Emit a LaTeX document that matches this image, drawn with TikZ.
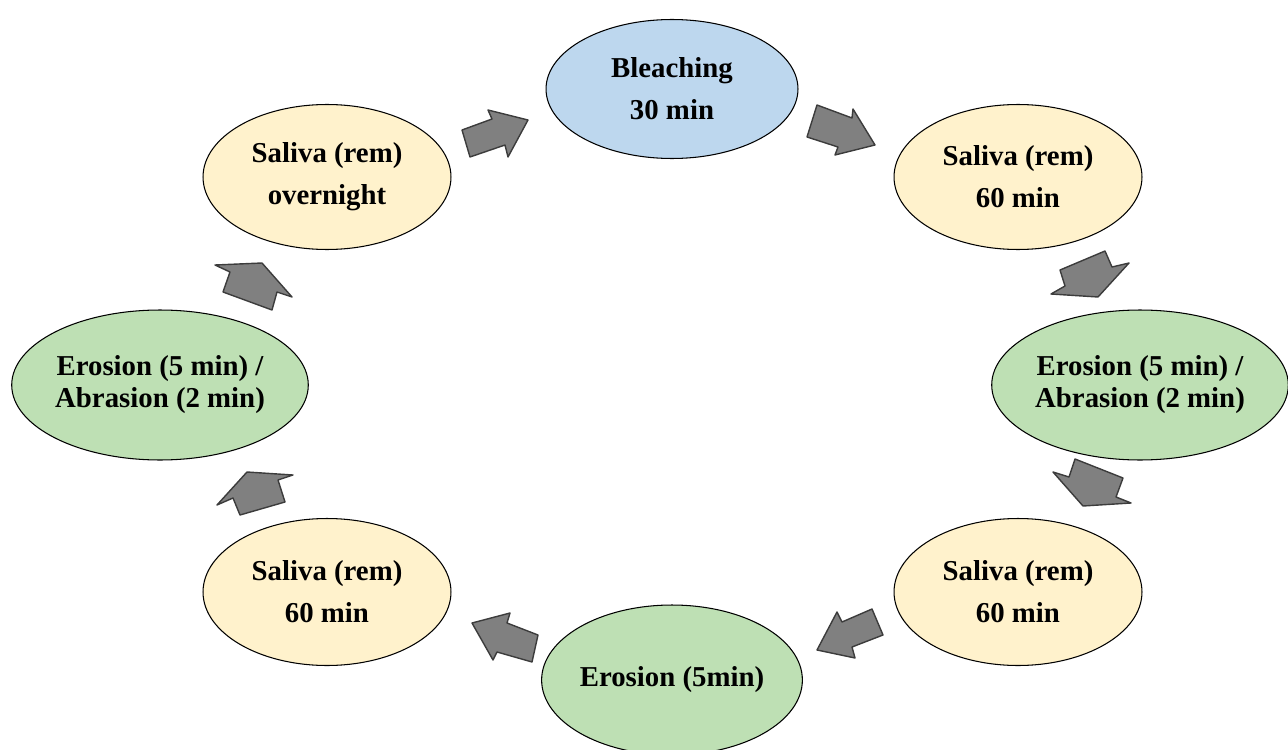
\documentclass[tikz,border=0pt]{standalone}
\usepackage{fontspec}
\setmainfont{Liberation Serif}
\usetikzlibrary{shapes.geometric}
\definecolor{blu}{RGB}{189,215,238}
\definecolor{yel}{RGB}{255,242,204}
\definecolor{grn}{RGB}{190,224,180}
\definecolor{arrfill}{RGB}{128,128,128}
\definecolor{arrline}{RGB}{60,60,60}
\begin{document}
\begin{tikzpicture}[x=0.02cm,y=-0.02cm,
  stage/.style={ellipse, draw=black, line width=0.6pt, inner sep=0pt, align=center,
    font=\fontsize{16.4}{24}\selectfont\bfseries},
  tight/.style={font=\fontsize{16.4}{18.2}\selectfont\bfseries},
  blockarrow/.style={fill=arrfill, draw=arrline, line width=0.8pt, line join=round}]
\useasboundingbox (0,0) rectangle (1288,750);

\node[stage, fill=blu, minimum width=5.04cm, minimum height=2.78cm] (bleach) at (672,89) {Bleaching\\30 min};
\node[stage, fill=yel, minimum width=4.96cm, minimum height=2.9cm] (sal1) at (1018,177) {Saliva (rem)\\60 min};
\node[stage, tight, fill=grn, minimum width=5.9cm, minimum height=3.0cm] (ea1) at (1140,385) {Erosion (5 min) /\\Abrasion (2 min)};
\node[stage, fill=yel, minimum width=4.96cm, minimum height=2.94cm] (sal2) at (1018,592) {Saliva (rem)\\60 min};
\node[stage, fill=grn, minimum width=4.96cm, minimum height=3.0cm] (ero) at (672,680) {Erosion (5min)};
\node[stage, fill=yel, minimum width=4.96cm, minimum height=2.94cm] (sal3) at (327,592) {Saliva (rem)\\60 min};
\node[stage, tight, fill=grn, minimum width=5.9cm, minimum height=3.0cm] (ea2) at (160,385) {Erosion (5 min) /\\Abrasion (2 min)};
\node[stage, fill=yel, minimum width=4.96cm, minimum height=2.9cm] (sal4) at (327,177) {Saliva (rem)\\overnight};

% block arrows
\draw[blockarrow] (462,130) -- (492,119) -- (488,110) -- (528,120) -- (508,157) -- (505,145) -- (470,157) -- cycle;
\draw[blockarrow] (817,105) -- (852,118) -- (853,109) -- (875,145) -- (835,155) -- (838,147) -- (807,137) -- cycle;
\draw[blockarrow] (1060,270) -- (1105,251) -- (1112,267) -- (1129,263) -- (1098,297) -- (1051,294) -- (1065,286) -- cycle;
\draw[blockarrow] (1075,459) -- (1123,478) -- (1116,497) -- (1131,503) -- (1083,506) -- (1053,472) -- (1069,477) -- cycle;
\draw[blockarrow] (837,612) -- (842,622) -- (872,609) -- (883,635) -- (852,647) -- (855,658) -- (817,650) -- cycle;
\draw[blockarrow] (510,613) -- (507,623) -- (538,635) -- (532,662) -- (497,652) -- (493,660) -- (472,623) -- cycle;
\draw[blockarrow] (217,505) -- (247,472) -- (293,475) -- (278,480) -- (285,502) -- (240,515) -- (233,498) -- cycle;
\draw[blockarrow] (215,265) -- (262,263) -- (292,297) -- (277,292) -- (272,310) -- (223,292) -- (230,272) -- cycle;
\end{tikzpicture}
\end{document}
